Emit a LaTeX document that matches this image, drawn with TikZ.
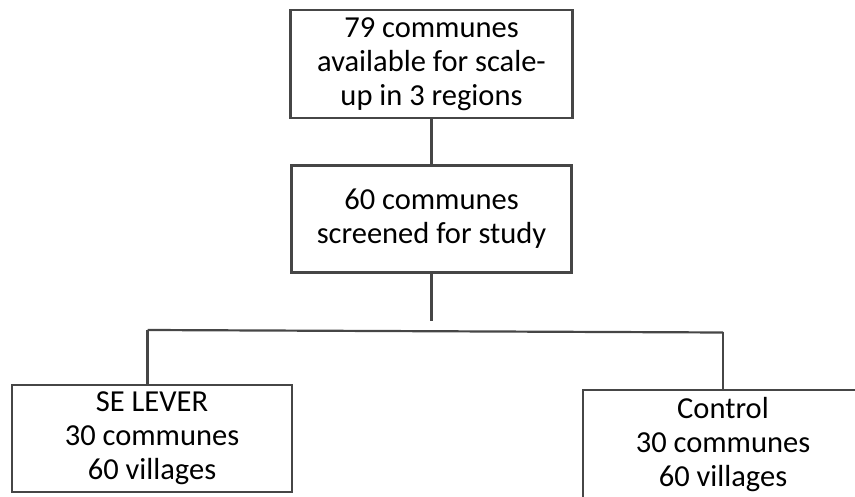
\documentclass[tikz,border=0pt]{standalone}
\usepackage{fontspec}
\setmainfont{Carlito}
\usepackage{tikz}
\definecolor{linegray}{RGB}{70,70,70}

\begin{document}
\begin{tikzpicture}[x=1pt, y=-1pt, line width=2.2pt, draw=linegray,
    box/.style={rectangle, draw=linegray, line width=2.2pt, fill=white, align=center, inner sep=0pt,
        font=\fontsize{30.5}{34}\selectfont}]
    \useasboundingbox (0,0) rectangle (855,497);
    \node[box] (79) [minimum width=282pt, minimum height=108pt] at (431.5,64) {79 communes\\available for scale-\\up in 3 regions};
    \node[box] (60) [minimum width=280pt, minimum height=107pt] at (431.5,219) {60 communes\\screened for study};
    \node[box] (sel) [minimum width=280pt, minimum height=107pt] at (152,438.5) {SE LEVER\\30 communes\\60 villages};
    \node[box] (ctl) [minimum width=280pt, minimum height=110pt] at (723,445) {Control\\30 communes\\60 villages};
    \coordinate (mid) at (431.5,321);
    \coordinate (l) at (147.5,330);
    \coordinate (r) at (723,332.5);
    \path[draw=linegray]
    (79) edge (60)
    (60.south) edge (mid)
    (l) edge (r)
        edge (l |- sel.north)
    (r) edge (ctl.north);
\end{tikzpicture}
\end{document}
